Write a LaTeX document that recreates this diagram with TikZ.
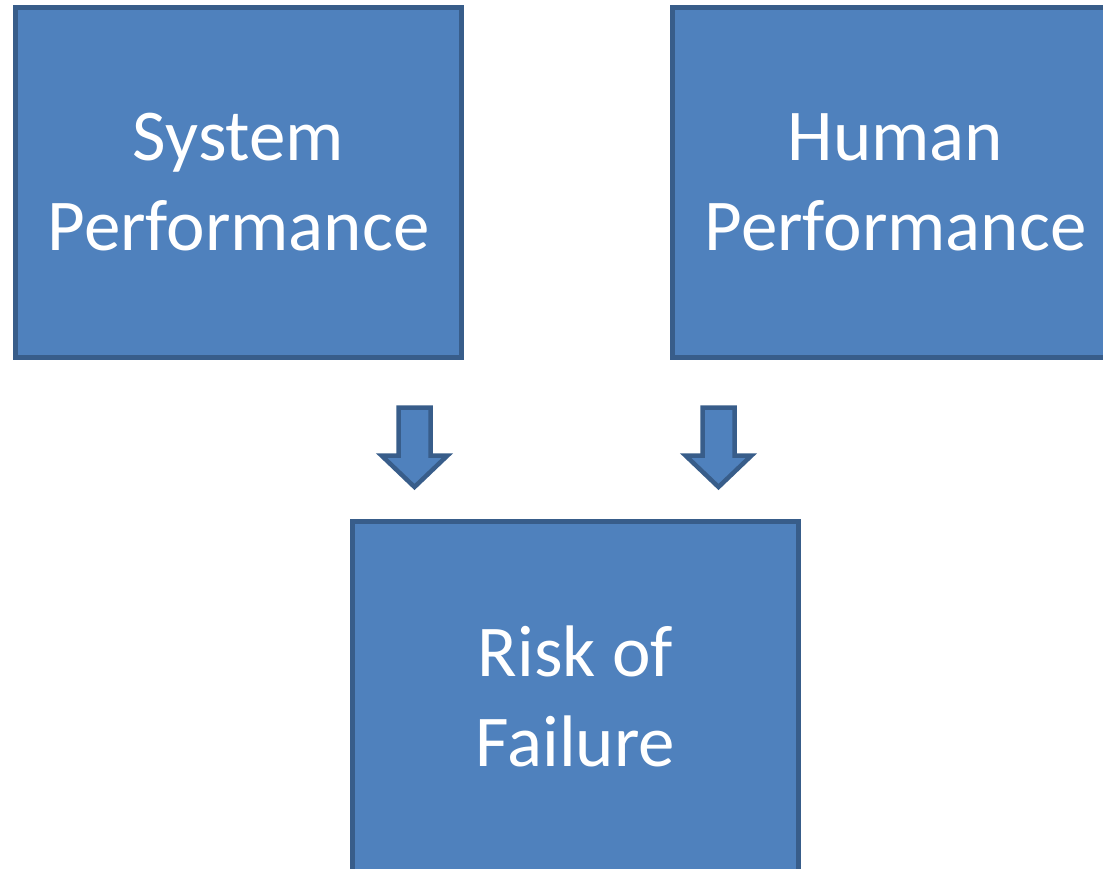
\documentclass[tikz,border=0pt]{standalone}
\usepackage{fontspec}
\setmainfont{Carlito}
\usepackage{tikz}
\definecolor{boxfill}{HTML}{4F81BD}
\definecolor{boxline}{HTML}{385D8A}

\begin{document}
\begin{tikzpicture}[x=1pt, y=-1pt,
  factor/.style={rectangle, draw=boxline, fill=boxfill, line width=4.5pt,
    minimum width=446pt, minimum height=350pt, inner sep=0pt, outer sep=0pt,
    text=white, align=center, font=\fontsize{73}{90}\selectfont},
  blockarrow/.style={draw=boxline, fill=boxfill, line width=4.5pt, line join=miter}]
  \useasboundingbox (0,0) rectangle (1103,869);
  \clip (0,0) rectangle (1103,869);
  \draw (238.5,182.5) node[factor] (sys) {System\\Performance};
  \draw (895.5,182.5) node[factor] (hum) {Human\\Performance};
  \draw (575.5,696.5) node[factor] (risk) {Risk of\\Failure};
  \foreach \ax in {414.5, 718.5}
    \draw[blockarrow] (\ax-16,407.5) -- (\ax+16,407.5) -- (\ax+16,455.5)
      -- (\ax+33,455.5) -- (\ax,487) -- (\ax-33,455.5) -- (\ax-16,455.5) -- cycle;
\end{tikzpicture}
\end{document}
